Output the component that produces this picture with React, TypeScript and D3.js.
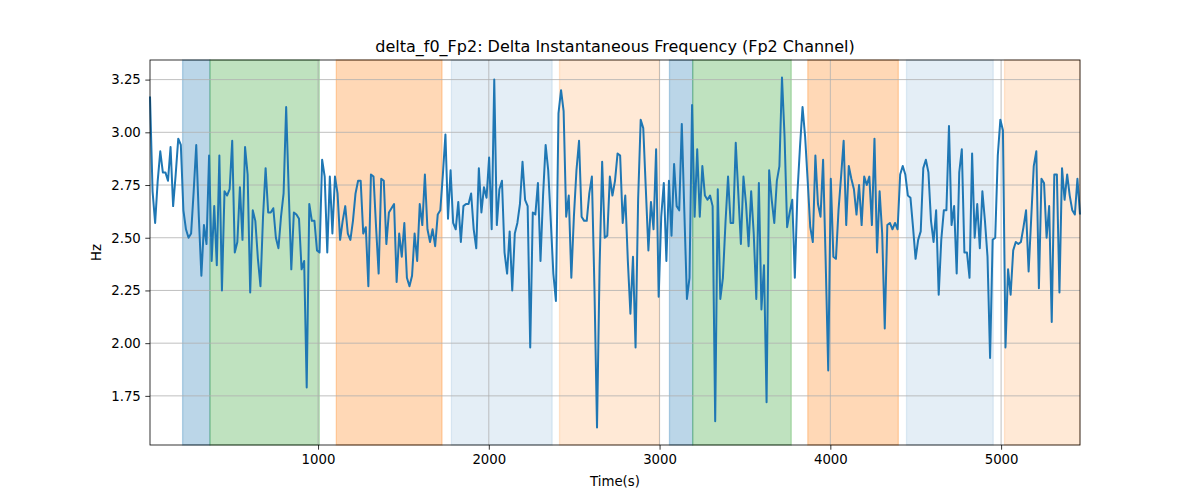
import * as d3 from "d3";
import { useEffect, useRef } from "react";

// delta f0 on channel Fp2, one value per sample
const deltaF0 = [
  3.17, 2.72, 2.57, 2.77, 2.91, 2.81, 2.81, 2.77, 2.93, 2.65, 2.8, 2.97, 2.94, 2.63, 2.54, 2.5, 2.52, 2.72, 2.94, 2.6,
  2.32, 2.56, 2.47, 2.89, 2.39, 2.65, 2.37, 2.89, 2.25, 2.72, 2.7, 2.73, 2.96, 2.43, 2.48, 2.74, 2.49, 2.93, 2.8, 2.24,
  2.63, 2.58,
  2.4, 2.27, 2.6, 2.83, 2.62, 2.62, 2.64, 2.5, 2.45, 2.6, 2.71, 3.12, 2.72, 2.35, 2.62, 2.61, 2.59, 2.35, 2.39, 1.79,
  2.66, 2.58, 2.58, 2.44, 2.43, 2.87, 2.79, 2.43, 2.79, 2.52, 2.79, 2.71, 2.49, 2.58, 2.65, 2.52, 2.49, 2.58, 2.71, 2.77,
  2.77, 2.52, 2.55, 2.27, 2.8, 2.79, 2.55, 2.33, 2.78, 2.77, 2.47, 2.62, 2.64, 2.66, 2.29, 2.52, 2.41, 2.57, 2.31, 2.27,
  2.32, 2.52, 2.39, 2.66, 2.56, 2.8, 2.54, 2.48, 2.54, 2.46, 2.61, 2.63, 2.8, 2.99, 2.59, 2.82, 2.57, 2.54, 2.67, 2.48,
  2.65, 2.66, 2.66, 2.71, 2.54, 2.45, 2.83, 2.62, 2.74, 2.69, 2.88, 2.54, 3.25, 2.56, 2.73, 2.77, 2.43, 2.33, 2.53, 2.25,
  2.52, 2.57, 2.66, 2.86, 2.68, 2.65, 1.98, 2.62, 2.61, 2.76, 2.39, 2.7, 2.94, 2.82, 2.58, 2.33, 2.2, 3.09, 3.2, 3.1,
  2.6, 2.7, 2.31, 2.6, 2.82, 2.96, 2.6, 2.58, 2.58, 2.71, 2.79, 2.26, 1.6, 2.36, 2.86, 2.5, 2.51, 2.79, 2.7, 2.77,
  2.9, 2.89, 2.57, 2.7, 2.39, 2.14, 2.41, 1.98, 2.68, 3.06, 3.02, 2.73, 2.44, 2.67, 2.54, 2.92, 2.22, 2.6, 2.76, 2.39,
  2.77, 2.51, 2.85, 2.65, 2.63, 3.04, 2.62, 2.21, 2.31, 3.13, 2.6, 2.92, 2.6, 2.84, 2.7, 2.68, 2.7, 2.65, 1.63, 2.73,
  2.21, 2.31, 2.57, 2.79, 2.57, 2.57, 2.95, 2.71, 2.47, 2.79, 2.66, 2.46, 2.72, 2.52, 2.21, 2.76, 2.16, 2.37, 1.72, 2.82,
  2.68,
  2.57, 2.77, 2.84, 3.26, 2.98, 2.55, 2.62, 2.68, 2.31, 2.71, 2.93, 3.12, 2.98, 2.77, 2.55, 2.48, 2.89, 2.66, 2.6, 2.87,
  2.39, 1.87, 2.78, 2.41, 2.4, 2.63, 2.79, 2.96, 2.56, 2.84, 2.78, 2.73, 2.61, 2.75, 2.56, 2.79, 2.75, 2.79, 2.56,
  2.97, 2.43, 2.72, 2.52, 2.07, 2.56, 2.57, 2.54, 2.57, 2.54, 2.8, 2.84, 2.8, 2.7, 2.69, 2.55, 2.4, 2.49, 2.53, 2.83,
  2.87, 2.81, 2.58, 2.48, 2.63, 2.23, 2.49, 2.63, 2.63, 3.03, 2.56, 2.65, 2.33, 2.81, 2.92, 2.43, 2.43, 2.31, 2.9, 2.5,
  2.66, 2.45, 2.72, 2.58, 2.41, 1.93, 2.49, 2.5, 2.89, 3.06, 3.01, 1.98, 2.35, 2.23, 2.44, 2.48, 2.47, 2.48, 2.55, 2.63,
  2.34, 2.59, 2.84, 2.91, 2.26, 2.78, 2.76, 2.5, 2.65, 2.1, 2.8, 2.8, 2.24, 2.83, 2.68, 2.8, 2.7, 2.63, 2.61, 2.78,
  2.61,
];
const startTime = 16;
const endTime = 5462;

// shaded segments
const spanStart = [207, 367, 1107, 1781, 2414, 3058, 3194, 3868, 4446, 5020];
const spanEnd = [367, 1007, 1726, 2371, 2999, 3194, 3771, 4398, 4954, 5462];
const spanKind = ["blue", "green", "orange", "paleBlue", "paleOrange", "blue", "green", "orange", "paleBlue", "paleOrange"];

const xTicks = [1000, 2000, 3000, 4000, 5000];
const yTicks = [1.75, 2.0, 2.25, 2.5, 2.75, 3.0, 3.25];

const kindColor: { [k: string]: string } = {
  blue: "#1f77b4",
  green: "#2ca02c",
  orange: "#ff7f0e",
  paleBlue: "#1f77b4",
  paleOrange: "#ff7f0e",
};
const kindAlpha: { [k: string]: number } = {
  blue: 0.3,
  green: 0.3,
  orange: 0.3,
  paleBlue: 0.12,
  paleOrange: 0.17,
};

function App() {
  const ref = useRef<SVGSVGElement>(null);
  const W = 1200;
  const H = 500;
  const margin = { top: 60, right: 120, bottom: 55, left: 150 };
  const width = W - margin.left - margin.right;
  const height = H - margin.top - margin.bottom;
  const font = "DejaVu Sans, sans-serif";

  useEffect(() => {
    document.body.style.margin = "0";
    const svg = d3.select(ref.current);
    svg.selectAll("*").remove();

    const step = (endTime - startTime) / (deltaF0.length - 1);
    const times = deltaF0.map((_, i) => startTime + i * step);

    const xScale = d3.scaleLinear().domain([startTime, endTime]).range([0, width]);
    const [lo, hi] = d3.extent(deltaF0) as [number, number];
    const pad = (hi - lo) * 0.05;
    const yScale = d3.scaleLinear().domain([lo - pad, hi + pad]).range([height, 0]);

    const g = svg.append("g").attr("transform", `translate(${margin.left},${margin.top})`);

    // spans
    g.append("g")
      .selectAll("rect")
      .data(spanStart.map((s, i) => ({ s, e: spanEnd[i], k: spanKind[i] })))
      .join("rect")
      .attr("x", (d) => xScale(d.s))
      .attr("width", (d) => xScale(d.e) - xScale(d.s))
      .attr("y", 0)
      .attr("height", height)
      .attr("fill", (d) => kindColor[d.k])
      .attr("fill-opacity", (d) => kindAlpha[d.k])
      .attr("stroke", (d) => kindColor[d.k])
      .attr("stroke-opacity", (d) => kindAlpha[d.k])
      .attr("stroke-width", 1.3);

    // grid
    const grid = g.append("g").attr("stroke", "#b0b0b0").attr("stroke-width", 0.8);
    grid
      .selectAll("line.gx")
      .data(xTicks)
      .join("line")
      .attr("x1", (d) => xScale(d))
      .attr("x2", (d) => xScale(d))
      .attr("y1", 0)
      .attr("y2", height);
    grid
      .selectAll("line.gy")
      .data(yTicks)
      .join("line")
      .attr("x1", 0)
      .attr("x2", width)
      .attr("y1", (d) => yScale(d))
      .attr("y2", (d) => yScale(d));

    // series
    const line = d3
      .line<number>()
      .x((_, i) => xScale(times[i]))
      .y((d) => yScale(d));
    g.append("path")
      .datum(deltaF0)
      .attr("fill", "none")
      .attr("stroke", "#1f77b4")
      .attr("stroke-width", 2)
      .attr("stroke-linejoin", "round")
      .attr("d", line);

    // axes
    const xAxis = g
      .append("g")
      .attr("transform", `translate(0,${height})`)
      .call(d3.axisBottom(xScale).tickValues(xTicks).tickSize(4.7).tickPadding(4.5).tickFormat(d3.format("d")));
    const yAxis = g
      .append("g")
      .call(d3.axisLeft(yScale).tickValues(yTicks).tickSize(4.7).tickPadding(4.5).tickFormat(d3.format(".2f")));
    [xAxis, yAxis].forEach((a) => {
      a.select(".domain").remove();
      a.selectAll("line").attr("stroke", "#000").attr("stroke-width", 0.8);
      a.selectAll("text").attr("font-family", font).attr("font-size", 13.3).attr("fill", "#000");
    });

    g.append("rect")
      .attr("width", width)
      .attr("height", height)
      .attr("fill", "none")
      .attr("stroke", "#000")
      .attr("stroke-width", 0.8);

    // labels
    svg
      .append("text")
      .attr("x", margin.left + width / 2)
      .attr("y", margin.top - 8)
      .attr("text-anchor", "middle")
      .attr("font-family", font)
      .attr("font-size", 16)
      .text("delta_f0_Fp2: Delta Instantaneous Frequency (Fp2 Channel)");
    svg
      .append("text")
      .attr("x", margin.left + width / 2)
      .attr("y", H - 14)
      .attr("text-anchor", "middle")
      .attr("font-family", font)
      .attr("font-size", 13.3)
      .text("Time(s)");
    svg
      .append("text")
      .attr("transform", `translate(${margin.left - 49},${margin.top + height / 2}) rotate(-90)`)
      .attr("text-anchor", "middle")
      .attr("font-family", font)
      .attr("font-size", 13.3)
      .text("Hz");
  }, []);

  return <svg ref={ref} width={W} height={H} style={{ display: "block" }} />;
}

export default App;
